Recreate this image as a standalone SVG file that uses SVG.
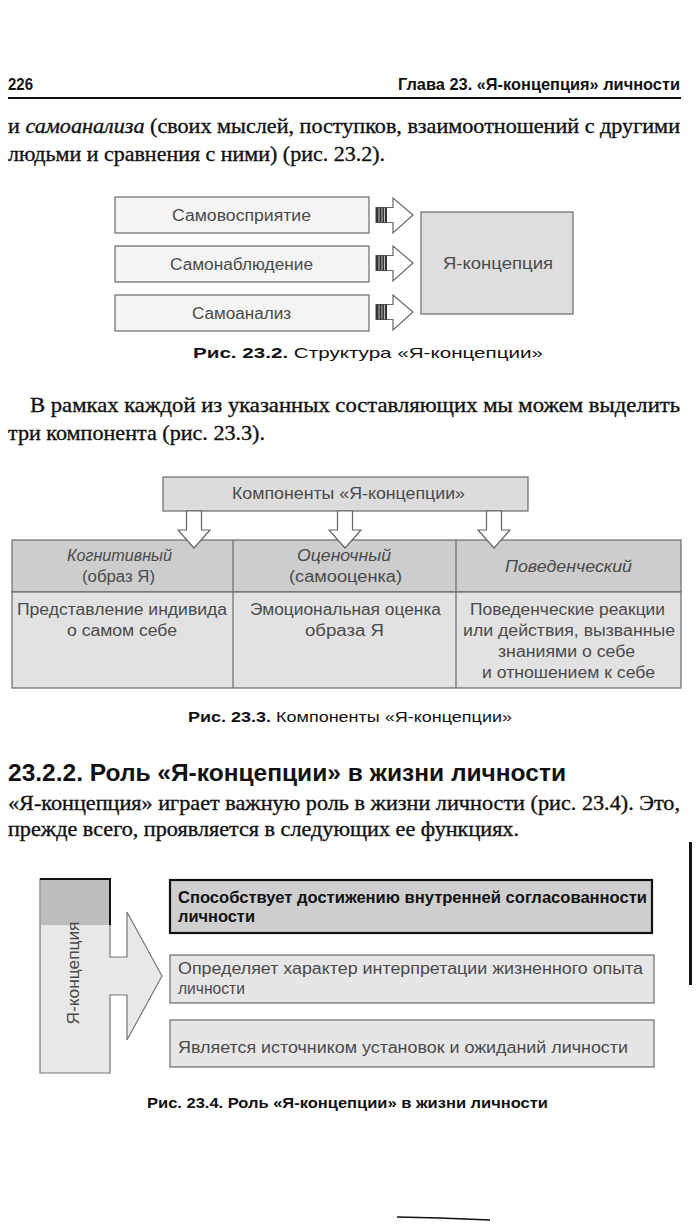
<svg xmlns="http://www.w3.org/2000/svg" width="700" height="1227" viewBox="0 0 700 1227">
<style>
.body{font-family:"Liberation Serif",serif;font-size:21px;fill:#111;stroke:#111;stroke-width:0.35}
.hdr{font-family:"Liberation Sans",sans-serif;font-size:17px;font-weight:bold;fill:#111}
.cap{font-family:"Liberation Sans",sans-serif;font-size:15px;font-weight:bold;fill:#111}
.dg{font-family:"Liberation Sans",sans-serif;font-size:16px;fill:#4a4a4a}
.dgi{font-family:"Liberation Sans",sans-serif;font-size:16px;font-style:italic;fill:#4a4a4a}
.box{stroke:#6a6a6a;stroke-width:1.2}
.arr{fill:#fff;stroke:#666;stroke-width:1.2}
</style>
<rect width="700" height="1227" fill="#fff"/>

<!-- page header -->
<text class="hdr" x="8" y="90" textLength="25" lengthAdjust="spacingAndGlyphs">226</text>
<text class="hdr" x="398" y="90" textLength="282" lengthAdjust="spacingAndGlyphs">Глава 23. «Я-концепция» личности</text>
<line x1="8" y1="98" x2="681" y2="98" stroke="#111" stroke-width="2.2"/>

<!-- paragraph 1 -->
<text class="body" x="8" y="133" textLength="672" lengthAdjust="spacingAndGlyphs">и <tspan font-style="italic">самоанализа</tspan> (своих мыслей, поступков, взаимоотношений с другими</text>
<text class="body" x="8" y="161" textLength="377" lengthAdjust="spacingAndGlyphs">людьми и сравнения с ними) (рис. 23.2).</text>

<!-- Fig 23.2 -->
<g id="fig232">
  <g id="n-samovospriyatie">
    <rect class="box" x="115" y="197" width="254" height="36" fill="#f4f4f4"/>
    <text class="dg" x="172" y="221" textLength="139" lengthAdjust="spacingAndGlyphs">Самовосприятие</text>
  </g>
  <g id="n-samonablyudenie">
    <rect class="box" x="115" y="246" width="254" height="36" fill="#f4f4f4"/>
    <text class="dg" x="170" y="270" textLength="143" lengthAdjust="spacingAndGlyphs">Самонаблюдение</text>
  </g>
  <g id="n-samoanaliz">
    <rect class="box" x="115" y="295" width="254" height="36" fill="#f4f4f4"/>
    <text class="dg" x="192" y="319" textLength="99" lengthAdjust="spacingAndGlyphs">Самоанализ</text>
  </g>
  <g id="n-ya-koncepciya">
    <rect class="box" x="421" y="212" width="152" height="102" fill="#dedede"/>
    <text class="dg" x="443" y="269" textLength="110" lengthAdjust="spacingAndGlyphs">Я-концепция</text>
  </g>
  <g id="conn232">
    <polygon class="arr" points="376,207.5 393,207.5 393,198 413,215 393,233 393,222.5 376,222.5"/>
    <rect x="376" y="207.5" width="11" height="15" fill="#333"/>
    <path d="M379,208v14M382,208v14M384.5,208v14" stroke="#bbb" stroke-width="1"/>
    <polygon class="arr" points="376,255.5 393,255.5 393,246 413,263 393,281 393,270.5 376,270.5"/>
    <rect x="376" y="255.5" width="11" height="15" fill="#333"/>
    <path d="M379,256v14M382,256v14M384.5,256v14" stroke="#bbb" stroke-width="1"/>
    <polygon class="arr" points="376,304.5 393,304.5 393,295 413,312 393,330 393,319.5 376,319.5"/>
    <rect x="376" y="304.5" width="11" height="15" fill="#333"/>
    <path d="M379,305v14M382,305v14M384.5,305v14" stroke="#bbb" stroke-width="1"/>
  </g>
</g>
<text class="cap" x="193" y="358" textLength="350" lengthAdjust="spacingAndGlyphs">Рис. 23.2. <tspan font-weight="normal">Структура «Я-концепции»</tspan></text>

<!-- paragraph 2 -->
<text class="body" x="30" y="412" textLength="650" lengthAdjust="spacingAndGlyphs">В рамках каждой из указанных составляющих мы можем выделить</text>
<text class="body" x="8" y="440" textLength="257" lengthAdjust="spacingAndGlyphs">три компонента (рис. 23.3).</text>

<!-- Fig 23.3 -->
<g id="fig233">
  <g id="n-komponenty">
    <rect class="box" x="163" y="477" width="365" height="34" fill="#dcdcdc"/>
    <text class="dg" x="232" y="499" textLength="233" lengthAdjust="spacingAndGlyphs">Компоненты «Я-концепции»</text>
  </g>
  <g id="n-table">
    <rect class="box" x="12" y="540" width="669" height="52" fill="#cdcdcd"/>
    <rect class="box" x="12" y="592" width="669" height="96" fill="#e2e2e2"/>
    <line class="box" x1="233" y1="540" x2="233" y2="688"/>
    <line class="box" x1="456" y1="540" x2="456" y2="688"/>
  </g>
  <g id="n-kognitivnyi">
    <text class="dgi" x="67" y="561" textLength="105" lengthAdjust="spacingAndGlyphs">Когнитивный</text>
    <text class="dg" x="82" y="582" textLength="73" lengthAdjust="spacingAndGlyphs">(образ Я)</text>
    <text class="dg" x="17" y="615" textLength="210" lengthAdjust="spacingAndGlyphs">Представление индивида</text>
    <text class="dg" x="67" y="636" textLength="110" lengthAdjust="spacingAndGlyphs">о самом себе</text>
  </g>
  <g id="n-ocenochnyi">
    <text class="dgi" x="297" y="561" textLength="94" lengthAdjust="spacingAndGlyphs">Оценочный</text>
    <text class="dg" x="289" y="582" textLength="113" lengthAdjust="spacingAndGlyphs">(самооценка)</text>
    <text class="dg" x="250" y="615" textLength="191" lengthAdjust="spacingAndGlyphs">Эмоциональная оценка</text>
    <text class="dg" x="305" y="636" textLength="79" lengthAdjust="spacingAndGlyphs">образа Я</text>
  </g>
  <g id="n-povedencheskii">
    <text class="dgi" x="505" y="572" textLength="127" lengthAdjust="spacingAndGlyphs">Поведенческий</text>
    <text class="dg" x="470" y="615" textLength="195" lengthAdjust="spacingAndGlyphs">Поведенческие реакции</text>
    <text class="dg" x="463" y="636" textLength="212" lengthAdjust="spacingAndGlyphs">или действия, вызванные</text>
    <text class="dg" x="498" y="657" textLength="137" lengthAdjust="spacingAndGlyphs">знаниями о себе</text>
    <text class="dg" x="482" y="678" textLength="173" lengthAdjust="spacingAndGlyphs">и отношением к себе</text>
  </g>
  <g id="conn233">
    <polygon class="arr" points="186.5,511 201.5,511 201.5,530 210,530 194,548 178,530 186.5,530"/>
    <polygon class="arr" points="337.5,511 352.5,511 352.5,530 361,530 345,548 329,530 337.5,530"/>
    <polygon class="arr" points="486.5,511 501.5,511 501.5,530 510,530 494,548 478,530 486.5,530"/>
  </g>
</g>
<text class="cap" x="188" y="722" textLength="324" lengthAdjust="spacingAndGlyphs">Рис. 23.3. <tspan font-weight="normal">Компоненты «Я-концепции»</tspan></text>

<!-- section heading -->
<text x="8" y="781" font-family="Liberation Sans, sans-serif" font-size="23" font-weight="bold" fill="#111" textLength="558" lengthAdjust="spacingAndGlyphs">23.2.2. Роль «Я-концепции» в жизни личности</text>

<!-- paragraph 3 -->
<text class="body" x="8" y="810" textLength="672" lengthAdjust="spacingAndGlyphs">«Я-концепция» играет важную роль в жизни личности (рис. 23.4). Это,</text>
<text class="body" x="8" y="836" textLength="511" lengthAdjust="spacingAndGlyphs">прежде всего, проявляется в следующих ее функциях.</text>

<!-- Fig 23.4 -->
<g id="fig234">
  <g id="n-ya-koncepciya-2">
    <path d="M40,879 H110 V957 H127 V912 L162,976 L127,1040 V995 H110 V1073 H40 Z" fill="#e8e8e8" stroke="#777" stroke-width="1.2"/>
    <rect x="41" y="880" width="68" height="45" fill="#bdbdbd"/>
    <path d="M40,879 H110 V925" fill="none" stroke="#111" stroke-width="2"/>
    <text class="dg" transform="translate(79,973) rotate(-90)" text-anchor="middle" textLength="103" lengthAdjust="spacingAndGlyphs">Я-концепция</text>
  </g>
  <g id="n-sposobstvuet">
    <rect x="170" y="880" width="482" height="53" fill="#cfcfcf" stroke="#111" stroke-width="2.2"/>
    <text x="178" y="903" font-family="Liberation Sans, sans-serif" font-size="16" font-weight="bold" fill="#111" textLength="469" lengthAdjust="spacingAndGlyphs">Способствует достижению внутренней согласованности</text>
    <text x="178" y="922" font-family="Liberation Sans, sans-serif" font-size="16" font-weight="bold" fill="#111" textLength="77" lengthAdjust="spacingAndGlyphs">личности</text>
  </g>
  <g id="n-opredelyaet">
    <rect class="box" x="170" y="955" width="484" height="48" fill="#e6e6e6"/>
    <text class="dg" x="178" y="974" textLength="465" lengthAdjust="spacingAndGlyphs">Определяет характер интерпретации жизненного опыта</text>
    <text class="dg" x="178" y="994" textLength="67" lengthAdjust="spacingAndGlyphs">личности</text>
  </g>
  <g id="n-yavlyaetsya">
    <rect class="box" x="170" y="1020" width="484" height="47" fill="#e6e6e6"/>
    <text class="dg" x="178" y="1053" textLength="450" lengthAdjust="spacingAndGlyphs">Является источником установок и ожиданий личности</text>
  </g>
</g>
<text class="cap" x="147" y="1108" textLength="401" lengthAdjust="spacingAndGlyphs">Рис. 23.4. <tspan>Роль «Я-концепции» в жизни личности</tspan></text>

<!-- scan marks -->
<rect x="689" y="842" width="3" height="143" fill="#111"/>
<path d="M397,1217 L440,1218 L490,1220" stroke="#111" stroke-width="1.6" fill="none"/>
</svg>
